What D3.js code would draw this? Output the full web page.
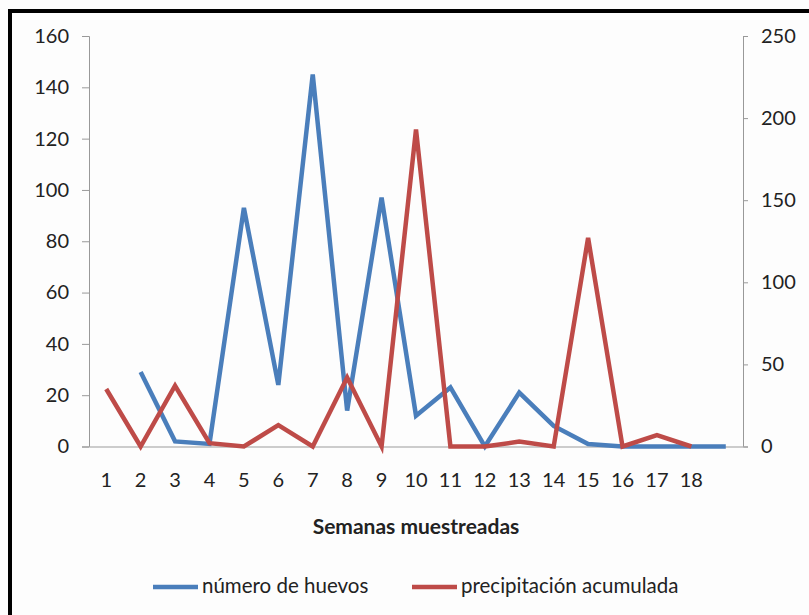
<!doctype html>
<html>
<head>
<meta charset="utf-8">
<script src="https://d3js.org/d3.v7.min.js"></script>
<style>
  body { margin: 0; background: #fff; }
  text { font-family: Lato, "Open Sans", sans-serif; fill: #222; }
</style>
</head>
<body>
<svg id="chart" width="809" height="615"></svg>
<script>
// semanas (the 19th has no label)
const semanas = ["1","2","3","4","5","6","7","8","9","10","11","12","13","14","15","16","17","18",""];
// número de huevos (left axis), null = no value
const huevos = [null, 29, 2, 1, 93, 24, 145, 14, 97, 12, 23, 0, 21, 8, 1, 0, 0, 0, 0];
// precipitación acumulada (right axis)
const lluvia = [35, 0, 37, 2, 0, 13, 0, 42, 0, 193, 0, 0, 3, 0, 127, 0, 7, 0, null];
const leftTicks = [0, 20, 40, 60, 80, 100, 120, 140, 160];
const rightTicks = [0, 50, 100, 150, 200, 250];

const svg = d3.select("#chart");
const blue = "#4a7ebb", red = "#be4b48";

/* outer frame */
svg.append("rect").attr("width", 809).attr("height", 615).attr("fill", "#fdfdfd");
svg.append("rect")
  .attr("x", 10).attr("y", 11).attr("width", 830).attr("height", 640)
  .attr("fill", "none").attr("stroke", "#000").attr("stroke-width", 4);

const pLeft = 89, pRight = 743, pTop = 36, pBottom = 446.5;

const x = d3.scaleBand().domain(d3.range(semanas.length)).range([pLeft, pRight]);
const yL = d3.scaleLinear().domain([0, 160]).range([pBottom, pTop]);
const yR = d3.scaleLinear().domain([0, 250]).range([pBottom, pTop]);

/* axes */
const axL = svg.append("g").attr("transform", `translate(${pLeft},0)`)
  .call(d3.axisLeft(yL).tickValues(leftTicks).tickSize(7).tickPadding(13));
const axR = svg.append("g").attr("transform", `translate(${pRight},0)`)
  .call(d3.axisRight(yR).tickValues(rightTicks).tickSize(5).tickPadding(13));
[axL, axR].forEach(a => {
  a.select(".domain").attr("stroke", "#999");
  a.selectAll(".tick line").attr("stroke", "#999");
  a.selectAll(".tick text").attr("font-size", 20).attr("font-family", "Lato").attr("fill", "#222");
});

const axX = svg.append("g").attr("transform", `translate(0,${pBottom})`)
  .call(d3.axisBottom(x).tickFormat(i => semanas[i]).tickSize(0).tickPadding(26));
axX.select(".domain").attr("stroke", "#bbb").attr("stroke-width", 1.5);
axX.selectAll(".tick text").attr("font-size", 20).attr("font-family", "Lato").attr("fill", "#222");

svg.append("text")
  .attr("x", (pLeft + pRight) / 2).attr("y", 534)
  .attr("text-anchor", "middle").attr("font-size", 21).attr("font-weight", "bold")
  .attr("fill", "#111")
  .text("Semanas muestreadas");

/* lines */
const cx = i => x(i) + x.bandwidth() / 2;
const lineL = d3.line().defined(d => d != null).x((d, i) => cx(i)).y(d => yL(d));
const lineR = d3.line().defined(d => d != null).x((d, i) => cx(i)).y(d => yR(d));

svg.append("path").datum(huevos)
  .attr("d", lineL).attr("fill", "none").attr("stroke", blue)
  .attr("stroke-width", 4.5).attr("stroke-linejoin", "miter");
svg.append("path").datum(lluvia)
  .attr("d", lineR).attr("fill", "none").attr("stroke", red)
  .attr("stroke-width", 4.5).attr("stroke-linejoin", "miter");

/* legend */
const legend = [
  {name: "número de huevos", color: blue, x: 153},
  {name: "precipitación acumulada", color: red, x: 412}
];
const lg = svg.append("g").selectAll("g").data(legend).enter().append("g")
  .attr("transform", d => `translate(${d.x},587)`);
lg.append("line").attr("x1", 0).attr("x2", 45).attr("stroke", d => d.color).attr("stroke-width", 4.5);
lg.append("text").attr("x", 49).attr("y", 6).attr("font-size", 20.5)
  .text(d => d.name);
</script>
</body>
</html>
